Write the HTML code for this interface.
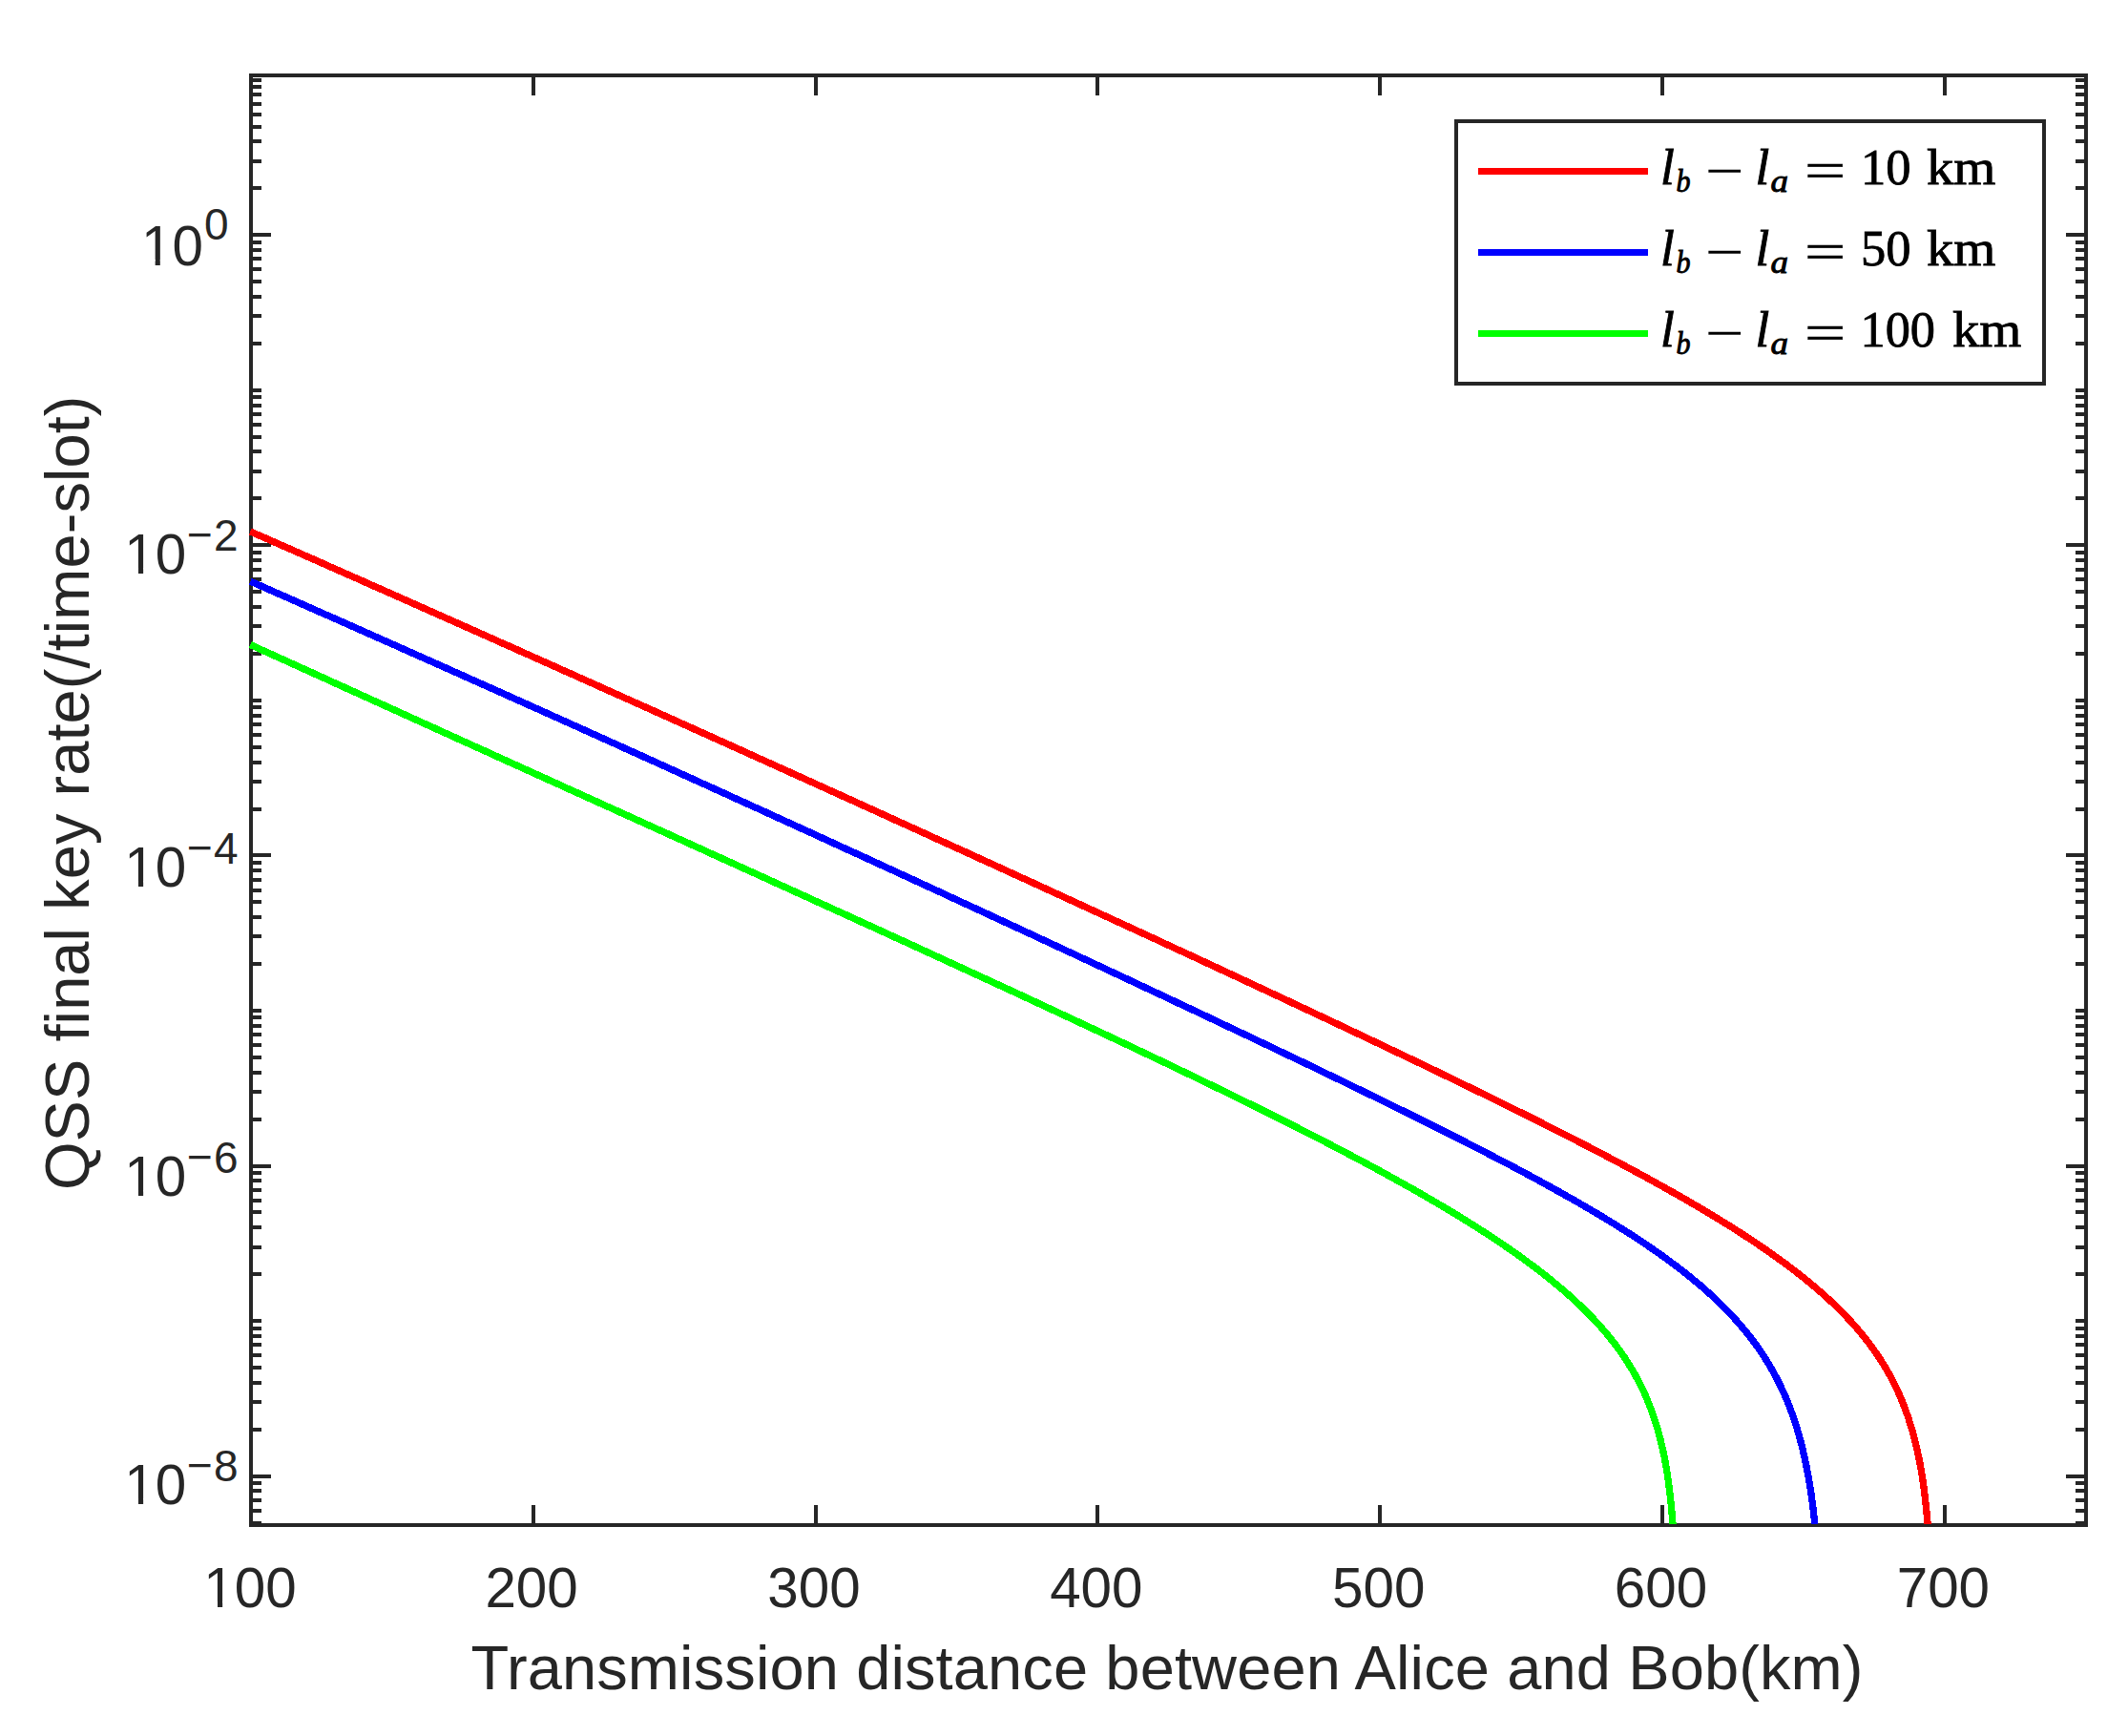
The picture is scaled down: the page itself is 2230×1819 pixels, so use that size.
<!DOCTYPE html>
<html lang="en"><head><meta charset="utf-8"><title>QSS final key rate</title>
<style>html,body{margin:0;padding:0;background:#fff}svg{display:block}.t{font-family:"Liberation Sans",sans-serif;fill:#262626}.tk{font-size:58.33px}.ex{font-size:46px}.lb{font-size:65px}.ri{font-family:"Liberation Serif",serif;font-style:italic;fill:#000;stroke:#000;stroke-width:.9px}.ro{font-family:"Liberation Serif",serif;fill:#000}.rr{font-family:"Liberation Serif",serif;fill:#000;stroke:#000;stroke-width:.8px}</style></head><body>
<svg width="2230" height="1819" viewBox="0 0 2230 1819">
<rect width="2230" height="1819" fill="#fff"/>
<path d="M559.00,1598.0V1577.0M559.00,79.0V100.0M855.00,1598.0V1577.0M855.00,79.0V100.0M1150.00,1598.0V1577.0M1150.00,79.0V100.0M1446.00,1598.0V1577.0M1446.00,79.0V100.0M1742.00,1598.0V1577.0M1742.00,79.0V100.0M2038.00,1598.0V1577.0M2038.00,79.0V100.0M263.0,1596.00h11M2186.0,1596.00h-11M263.0,1583.00h11M2186.0,1583.00h-11M263.0,1572.00h11M2186.0,1572.00h-11M263.0,1562.00h11M2186.0,1562.00h-11M263.0,1554.00h11M2186.0,1554.00h-11M263.0,1547.00h21M2186.0,1547.00h-21M263.0,1498.00h11M2186.0,1498.00h-11M263.0,1469.00h11M2186.0,1469.00h-11M263.0,1449.00h11M2186.0,1449.00h-11M263.0,1433.00h11M2186.0,1433.00h-11M263.0,1420.00h11M2186.0,1420.00h-11M263.0,1409.00h11M2186.0,1409.00h-11M263.0,1400.00h11M2186.0,1400.00h-11M263.0,1392.00h11M2186.0,1392.00h-11M263.0,1384.00h11M2186.0,1384.00h-11M263.0,1335.00h11M2186.0,1335.00h-11M263.0,1307.00h11M2186.0,1307.00h-11M263.0,1286.00h11M2186.0,1286.00h-11M263.0,1270.00h11M2186.0,1270.00h-11M263.0,1258.00h11M2186.0,1258.00h-11M263.0,1247.00h11M2186.0,1247.00h-11M263.0,1237.00h11M2186.0,1237.00h-11M263.0,1229.00h11M2186.0,1229.00h-11M263.0,1222.00h21M2186.0,1222.00h-21M263.0,1173.00h11M2186.0,1173.00h-11M263.0,1144.00h11M2186.0,1144.00h-11M263.0,1124.00h11M2186.0,1124.00h-11M263.0,1108.00h11M2186.0,1108.00h-11M263.0,1095.00h11M2186.0,1095.00h-11M263.0,1084.00h11M2186.0,1084.00h-11M263.0,1075.00h11M2186.0,1075.00h-11M263.0,1066.00h11M2186.0,1066.00h-11M263.0,1059.00h11M2186.0,1059.00h-11M263.0,1010.00h11M2186.0,1010.00h-11M263.0,981.00h11M2186.0,981.00h-11M263.0,961.00h11M2186.0,961.00h-11M263.0,945.00h11M2186.0,945.00h-11M263.0,933.00h11M2186.0,933.00h-11M263.0,922.00h11M2186.0,922.00h-11M263.0,912.00h11M2186.0,912.00h-11M263.0,904.00h11M2186.0,904.00h-11M263.0,896.00h21M2186.0,896.00h-21M263.0,848.00h11M2186.0,848.00h-11M263.0,819.00h11M2186.0,819.00h-11M263.0,799.00h11M2186.0,799.00h-11M263.0,783.00h11M2186.0,783.00h-11M263.0,770.00h11M2186.0,770.00h-11M263.0,759.00h11M2186.0,759.00h-11M263.0,750.00h11M2186.0,750.00h-11M263.0,741.00h11M2186.0,741.00h-11M263.0,734.00h11M2186.0,734.00h-11M263.0,685.00h11M2186.0,685.00h-11M263.0,656.00h11M2186.0,656.00h-11M263.0,636.00h11M2186.0,636.00h-11M263.0,620.00h11M2186.0,620.00h-11M263.0,607.00h11M2186.0,607.00h-11M263.0,597.00h11M2186.0,597.00h-11M263.0,587.00h11M2186.0,587.00h-11M263.0,579.00h11M2186.0,579.00h-11M263.0,571.00h21M2186.0,571.00h-21M263.0,522.00h11M2186.0,522.00h-11M263.0,494.00h11M2186.0,494.00h-11M263.0,473.00h11M2186.0,473.00h-11M263.0,458.00h11M2186.0,458.00h-11M263.0,445.00h11M2186.0,445.00h-11M263.0,434.00h11M2186.0,434.00h-11M263.0,425.00h11M2186.0,425.00h-11M263.0,416.00h11M2186.0,416.00h-11M263.0,409.00h11M2186.0,409.00h-11M263.0,360.00h11M2186.0,360.00h-11M263.0,331.00h11M2186.0,331.00h-11M263.0,311.00h11M2186.0,311.00h-11M263.0,295.00h11M2186.0,295.00h-11M263.0,282.00h11M2186.0,282.00h-11M263.0,271.00h11M2186.0,271.00h-11M263.0,262.00h11M2186.0,262.00h-11M263.0,254.00h11M2186.0,254.00h-11M263.0,246.00h21M2186.0,246.00h-21M263.0,197.00h11M2186.0,197.00h-11M263.0,169.00h11M2186.0,169.00h-11M263.0,148.00h11M2186.0,148.00h-11M263.0,133.00h11M2186.0,133.00h-11M263.0,120.00h11M2186.0,120.00h-11M263.0,109.00h11M2186.0,109.00h-11M263.0,99.00h11M2186.0,99.00h-11M263.0,91.00h11M2186.0,91.00h-11M263.0,84.00h11M2186.0,84.00h-11" stroke="#262626" stroke-width="4" fill="none"/>
<rect x="263.0" y="79.0" width="1923.0" height="1519.0" fill="none" stroke="#262626" stroke-width="4"/>
<clipPath id="c"><rect x="250.0" y="79.0" width="1938.0" height="1518.0"/></clipPath>
<g clip-path="url(#c)" fill="none" stroke-width="7.3" stroke-linejoin="round" shape-rendering="crispEdges">
<path d="M262.3,556.9 265.0,558.1 270.0,560.3 275.0,562.5 280.0,564.7 285.0,566.9 290.0,569.1 295.0,571.3 300.0,573.5 305.0,575.7 310.0,577.9 315.0,580.1 320.0,582.3 325.0,584.5 330.0,586.7 335.0,588.9 340.0,591.1 345.0,593.4 350.0,595.6 355.0,597.8 360.0,600.0 365.0,602.2 370.0,604.4 375.0,606.6 380.0,608.8 385.0,611.1 390.0,613.3 395.0,615.5 400.0,617.7 405.0,619.9 410.0,622.1 415.0,624.3 420.0,626.6 425.0,628.8 430.0,631.0 435.0,633.2 440.0,635.4 445.0,637.7 450.0,639.9 455.0,642.1 460.0,644.3 465.0,646.5 470.0,648.8 475.0,651.0 480.0,653.2 485.0,655.4 490.0,657.7 495.0,659.9 500.0,662.1 505.0,664.3 510.0,666.6 515.0,668.8 520.0,671.0 525.0,673.3 530.0,675.5 535.0,677.7 540.0,679.9 545.0,682.2 550.0,684.4 555.0,686.6 560.0,688.9 565.0,691.1 570.0,693.3 575.0,695.6 580.0,697.8 585.0,700.0 590.0,702.3 595.0,704.5 600.0,706.7 605.0,709.0 610.0,711.2 615.0,713.5 620.0,715.7 625.0,717.9 630.0,720.2 635.0,722.4 640.0,724.7 645.0,726.9 650.0,729.1 655.0,731.4 660.0,733.6 665.0,735.9 670.0,738.1 675.0,740.3 680.0,742.6 685.0,744.8 690.0,747.1 695.0,749.3 700.0,751.6 705.0,753.8 710.0,756.1 715.0,758.3 720.0,760.6 725.0,762.8 730.0,765.1 735.0,767.3 740.0,769.6 745.0,771.8 750.0,774.1 755.0,776.3 760.0,778.6 765.0,780.8 770.0,783.1 775.0,785.3 780.0,787.6 785.0,789.9 790.0,792.1 795.0,794.4 800.0,796.6 805.0,798.9 810.0,801.1 815.0,803.4 820.0,805.7 825.0,807.9 830.0,810.2 835.0,812.4 840.0,814.7 845.0,817.0 850.0,819.2 855.0,821.5 860.0,823.8 865.0,826.0 870.0,828.3 875.0,830.5 880.0,832.8 885.0,835.1 890.0,837.3 895.0,839.6 900.0,841.9 905.0,844.2 910.0,846.4 915.0,848.7 920.0,851.0 925.0,853.2 930.0,855.5 935.0,857.8 940.0,860.1 945.0,862.3 950.0,864.6 955.0,866.9 960.0,869.1 965.0,871.4 970.0,873.7 975.0,876.0 980.0,878.3 985.0,880.5 990.0,882.8 995.0,885.1 1000.0,887.4 1005.0,889.7 1010.0,891.9 1015.0,894.2 1020.0,896.5 1025.0,898.8 1030.0,901.1 1035.0,903.3 1040.0,905.6 1045.0,907.9 1050.0,910.2 1055.0,912.5 1060.0,914.8 1065.0,917.1 1070.0,919.4 1075.0,921.6 1080.0,923.9 1085.0,926.2 1090.0,928.5 1095.0,930.8 1100.0,933.1 1105.0,935.4 1110.0,937.7 1115.0,940.0 1120.0,942.3 1125.0,944.6 1130.0,946.9 1135.0,949.2 1140.0,951.5 1145.0,953.8 1150.0,956.1 1155.0,958.4 1160.0,960.7 1165.0,963.0 1170.0,965.3 1175.0,967.6 1180.0,969.9 1185.0,972.2 1190.0,974.5 1195.0,976.8 1200.0,979.1 1205.0,981.4 1210.0,983.7 1215.0,986.0 1220.0,988.4 1225.0,990.7 1230.0,993.0 1235.0,995.3 1240.0,997.6 1245.0,999.9 1250.0,1002.2 1255.0,1004.6 1260.0,1006.9 1265.0,1009.2 1270.0,1011.5 1275.0,1013.8 1280.0,1016.2 1285.0,1018.5 1290.0,1020.8 1295.0,1023.1 1300.0,1025.5 1305.0,1027.8 1310.0,1030.1 1315.0,1032.5 1320.0,1034.8 1325.0,1037.1 1330.0,1039.5 1335.0,1041.8 1340.0,1044.1 1345.0,1046.5 1350.0,1048.8 1355.0,1051.2 1360.0,1053.5 1365.0,1055.9 1370.0,1058.2 1375.0,1060.6 1380.0,1062.9 1385.0,1065.3 1390.0,1067.6 1395.0,1070.0 1400.0,1072.3 1405.0,1074.7 1410.0,1077.0 1415.0,1079.4 1420.0,1081.8 1425.0,1084.1 1430.0,1086.5 1435.0,1088.9 1440.0,1091.3 1445.0,1093.6 1450.0,1096.0 1455.0,1098.4 1460.0,1100.8 1465.0,1103.2 1470.0,1105.5 1475.0,1107.9 1480.0,1110.3 1485.0,1112.7 1490.0,1115.1 1495.0,1117.5 1500.0,1119.9 1505.0,1122.3 1510.0,1124.7 1515.0,1127.2 1520.0,1129.6 1525.0,1132.0 1530.0,1134.4 1535.0,1136.9 1540.0,1139.3 1545.0,1141.7 1550.0,1144.2 1555.0,1146.6 1560.0,1149.1 1565.0,1151.5 1570.0,1154.0 1575.0,1156.4 1580.0,1158.9 1585.0,1161.4 1590.0,1163.9 1595.0,1166.3 1600.0,1168.8 1605.0,1171.3 1610.0,1173.8 1615.0,1176.3 1620.0,1178.9 1625.0,1181.4 1630.0,1183.9 1635.0,1186.4 1640.0,1189.0 1645.0,1191.5 1650.0,1194.1 1655.0,1196.7 1660.0,1199.2 1665.0,1201.8 1670.0,1204.4 1675.0,1207.0 1680.0,1209.6 1685.0,1212.3 1690.0,1214.9 1695.0,1217.6 1700.0,1220.2 1705.0,1222.9 1710.0,1225.6 1715.0,1228.3 1720.0,1231.0 1725.0,1233.7 1730.0,1236.4 1735.0,1239.2 1740.0,1242.0 1745.0,1244.8 1750.0,1247.6 1755.0,1250.4 1760.0,1253.2 1765.0,1256.1 1770.0,1259.0 1775.0,1261.9 1780.0,1264.8 1785.0,1267.8 1790.0,1270.8 1795.0,1273.8 1800.0,1276.8 1805.0,1279.9 1810.0,1283.0 1815.0,1286.1 1820.0,1289.3 1825.0,1292.5 1830.0,1295.8 1835.0,1299.0 1840.0,1302.4 1845.0,1305.8 1850.0,1309.2 1855.0,1312.7 1860.0,1316.2 1865.0,1319.8 1870.0,1323.4 1875.0,1327.2 1880.0,1331.0 1885.0,1334.9 1890.0,1338.8 1895.0,1342.9 1900.0,1347.0 1905.0,1351.3 1910.0,1355.7 1915.0,1360.2 1920.0,1364.8 1925.0,1369.6 1930.0,1374.6 1935.0,1379.8 1940.0,1385.1 1945.0,1390.7 1946.1,1392.0 1947.1,1393.2 1948.1,1394.4 1949.1,1395.6 1950.1,1396.8 1951.1,1398.0 1952.1,1399.2 1953.1,1400.5 1954.1,1401.7 1955.1,1403.0 1956.1,1404.2 1957.1,1405.5 1958.1,1406.8 1959.1,1408.2 1960.1,1409.5 1961.1,1410.9 1962.1,1412.2 1963.1,1413.6 1964.1,1415.0 1965.1,1416.5 1966.1,1417.9 1967.1,1419.4 1968.1,1420.9 1969.1,1422.4 1970.1,1423.9 1971.1,1425.5 1972.1,1427.0 1973.1,1428.6 1974.1,1430.3 1975.1,1431.9 1976.1,1433.6 1977.1,1435.3 1978.1,1437.0 1979.1,1438.8 1980.1,1440.6 1981.1,1442.4 1982.1,1444.3 1983.1,1446.2 1984.1,1448.2 1985.1,1450.1 1986.1,1452.2 1987.1,1454.2 1988.1,1456.4 1989.1,1458.5 1990.1,1460.8 1991.1,1463.0 1992.1,1465.4 1993.1,1467.8 1994.1,1470.2 1995.1,1472.8 1996.1,1475.4 1997.1,1478.1 1998.1,1480.8 1999.1,1483.7 2000.1,1486.7 2001.1,1489.8 2002.1,1492.9 2003.1,1496.3 2004.1,1499.7 2005.1,1503.3 2006.1,1507.1 2006.2,1507.4 2006.3,1507.8 2006.4,1508.2 2006.5,1508.6 2006.6,1509.0 2006.7,1509.4 2006.8,1509.8 2006.9,1510.2 2007.0,1510.6 2007.1,1511.0 2007.2,1511.4 2007.3,1511.8 2007.4,1512.2 2007.5,1512.6 2007.6,1513.0 2007.7,1513.5 2007.8,1513.9 2007.9,1514.3 2008.0,1514.7 2008.1,1515.1 2008.2,1515.6 2008.3,1516.0 2008.4,1516.4 2008.5,1516.9 2008.6,1517.3 2008.7,1517.7 2008.8,1518.2 2008.9,1518.6 2009.0,1519.1 2009.1,1519.5 2009.2,1519.9 2009.3,1520.4 2009.4,1520.9 2009.5,1521.3 2009.6,1521.8 2009.7,1522.2 2009.8,1522.7 2009.9,1523.2 2010.0,1523.6 2010.1,1524.1 2010.2,1524.6 2010.3,1525.1 2010.4,1525.5 2010.5,1526.0 2010.6,1526.5 2010.7,1527.0 2010.8,1527.5 2010.9,1528.0 2011.0,1528.5 2011.1,1529.0 2011.2,1529.5 2011.3,1530.0 2011.4,1530.5 2011.5,1531.0 2011.6,1531.6 2011.7,1532.1 2011.8,1532.6 2011.9,1533.1 2012.0,1533.7 2012.1,1534.2 2012.2,1534.8 2012.3,1535.3 2012.4,1535.8 2012.5,1536.4 2012.6,1537.0 2012.7,1537.5 2012.8,1538.1 2012.9,1538.6 2013.0,1539.2 2013.1,1539.8 2013.2,1540.4 2013.3,1541.0 2013.4,1541.6 2013.5,1542.1 2013.6,1542.7 2013.7,1543.3 2013.8,1544.0 2013.9,1544.6 2014.0,1545.2 2014.1,1545.8 2014.2,1546.4 2014.3,1547.1 2014.4,1547.7 2014.5,1548.3 2014.6,1549.0 2014.7,1549.6 2014.8,1550.3 2014.9,1551.0 2015.0,1551.6 2015.1,1552.3 2015.2,1553.0 2015.3,1553.7 2015.4,1554.4 2015.5,1555.1 2015.6,1555.8 2015.7,1556.5 2015.8,1557.2 2015.9,1558.0 2016.0,1558.7 2016.1,1559.4 2016.2,1560.2 2016.3,1560.9 2016.4,1561.7 2016.5,1562.5 2016.6,1563.2 2016.7,1564.0 2016.8,1564.8 2016.9,1565.6 2017.0,1566.4 2017.1,1567.3 2017.2,1568.1 2017.3,1568.9 2017.4,1569.8 2017.5,1570.6 2017.6,1571.5 2017.7,1572.4 2017.8,1573.3 2017.9,1574.2 2018.0,1575.1 2018.1,1576.0 2018.2,1576.9 2018.3,1577.9 2018.4,1578.8 2018.5,1579.8 2018.6,1580.8 2018.7,1581.7 2018.8,1582.8 2018.9,1583.8 2019.0,1584.8 2019.1,1585.8 2019.2,1586.9 2019.3,1588.0 2019.4,1589.1 2019.5,1590.2 2019.6,1591.3 2019.7,1592.4 2019.8,1593.6 2019.9,1594.8 2020.0,1596.0 2020.1,1597.2 2020.2,1598.4 2020.3,1599.7 2020.4,1601.0 2020.5,1602.3 2020.6,1603.6 2020.7,1604.9" stroke="#f00"/>
<path d="M262.3,609.1 265.0,610.3 270.0,612.5 275.0,614.7 280.0,616.9 285.0,619.1 290.0,621.3 295.0,623.5 300.0,625.7 305.0,627.9 310.0,630.1 315.0,632.3 320.0,634.5 325.0,636.8 330.0,639.0 335.0,641.2 340.0,643.4 345.0,645.6 350.0,647.8 355.0,650.0 360.0,652.2 365.0,654.4 370.0,656.7 375.0,658.9 380.0,661.1 385.0,663.3 390.0,665.5 395.0,667.8 400.0,670.0 405.0,672.2 410.0,674.4 415.0,676.6 420.0,678.9 425.0,681.1 430.0,683.3 435.0,685.5 440.0,687.8 445.0,690.0 450.0,692.2 455.0,694.4 460.0,696.7 465.0,698.9 470.0,701.1 475.0,703.4 480.0,705.6 485.0,707.8 490.0,710.1 495.0,712.3 500.0,714.5 505.0,716.8 510.0,719.0 515.0,721.2 520.0,723.5 525.0,725.7 530.0,727.9 535.0,730.2 540.0,732.4 545.0,734.7 550.0,736.9 555.0,739.2 560.0,741.4 565.0,743.6 570.0,745.9 575.0,748.1 580.0,750.4 585.0,752.6 590.0,754.9 595.0,757.1 600.0,759.4 605.0,761.6 610.0,763.9 615.0,766.1 620.0,768.4 625.0,770.6 630.0,772.9 635.0,775.1 640.0,777.4 645.0,779.6 650.0,781.9 655.0,784.2 660.0,786.4 665.0,788.7 670.0,790.9 675.0,793.2 680.0,795.4 685.0,797.7 690.0,800.0 695.0,802.2 700.0,804.5 705.0,806.8 710.0,809.0 715.0,811.3 720.0,813.6 725.0,815.8 730.0,818.1 735.0,820.4 740.0,822.6 745.0,824.9 750.0,827.2 755.0,829.4 760.0,831.7 765.0,834.0 770.0,836.3 775.0,838.5 780.0,840.8 785.0,843.1 790.0,845.4 795.0,847.6 800.0,849.9 805.0,852.2 810.0,854.5 815.0,856.8 820.0,859.0 825.0,861.3 830.0,863.6 835.0,865.9 840.0,868.2 845.0,870.5 850.0,872.7 855.0,875.0 860.0,877.3 865.0,879.6 870.0,881.9 875.0,884.2 880.0,886.5 885.0,888.8 890.0,891.1 895.0,893.3 900.0,895.6 905.0,897.9 910.0,900.2 915.0,902.5 920.0,904.8 925.0,907.1 930.0,909.4 935.0,911.7 940.0,914.0 945.0,916.3 950.0,918.6 955.0,920.9 960.0,923.2 965.0,925.5 970.0,927.8 975.0,930.1 980.0,932.4 985.0,934.7 990.0,937.0 995.0,939.4 1000.0,941.7 1005.0,944.0 1010.0,946.3 1015.0,948.6 1020.0,950.9 1025.0,953.2 1030.0,955.5 1035.0,957.8 1040.0,960.2 1045.0,962.5 1050.0,964.8 1055.0,967.1 1060.0,969.4 1065.0,971.7 1070.0,974.1 1075.0,976.4 1080.0,978.7 1085.0,981.0 1090.0,983.4 1095.0,985.7 1100.0,988.0 1105.0,990.3 1110.0,992.7 1115.0,995.0 1120.0,997.3 1125.0,999.6 1130.0,1002.0 1135.0,1004.3 1140.0,1006.6 1145.0,1009.0 1150.0,1011.3 1155.0,1013.6 1160.0,1016.0 1165.0,1018.3 1170.0,1020.7 1175.0,1023.0 1180.0,1025.3 1185.0,1027.7 1190.0,1030.0 1195.0,1032.4 1200.0,1034.7 1205.0,1037.1 1210.0,1039.4 1215.0,1041.7 1220.0,1044.1 1225.0,1046.4 1230.0,1048.8 1235.0,1051.2 1240.0,1053.5 1245.0,1055.9 1250.0,1058.2 1255.0,1060.6 1260.0,1062.9 1265.0,1065.3 1270.0,1067.7 1275.0,1070.0 1280.0,1072.4 1285.0,1074.8 1290.0,1077.1 1295.0,1079.5 1300.0,1081.9 1305.0,1084.2 1310.0,1086.6 1315.0,1089.0 1320.0,1091.4 1325.0,1093.7 1330.0,1096.1 1335.0,1098.5 1340.0,1100.9 1345.0,1103.3 1350.0,1105.7 1355.0,1108.1 1360.0,1110.4 1365.0,1112.8 1370.0,1115.2 1375.0,1117.6 1380.0,1120.0 1385.0,1122.5 1390.0,1124.9 1395.0,1127.3 1400.0,1129.7 1405.0,1132.1 1410.0,1134.5 1415.0,1136.9 1420.0,1139.4 1425.0,1141.8 1430.0,1144.2 1435.0,1146.7 1440.0,1149.1 1445.0,1151.5 1450.0,1154.0 1455.0,1156.4 1460.0,1158.9 1465.0,1161.4 1470.0,1163.8 1475.0,1166.3 1480.0,1168.8 1485.0,1171.2 1490.0,1173.7 1495.0,1176.2 1500.0,1178.7 1505.0,1181.2 1510.0,1183.7 1515.0,1186.2 1520.0,1188.7 1525.0,1191.3 1530.0,1193.8 1535.0,1196.3 1540.0,1198.9 1545.0,1201.4 1550.0,1204.0 1555.0,1206.6 1560.0,1209.2 1565.0,1211.8 1570.0,1214.4 1575.0,1217.0 1580.0,1219.6 1585.0,1222.2 1590.0,1224.9 1595.0,1227.5 1600.0,1230.2 1605.0,1232.9 1610.0,1235.6 1615.0,1238.3 1620.0,1241.1 1625.0,1243.8 1630.0,1246.6 1635.0,1249.4 1640.0,1252.2 1645.0,1255.0 1650.0,1257.8 1655.0,1260.7 1660.0,1263.6 1665.0,1266.5 1670.0,1269.5 1675.0,1272.4 1680.0,1275.4 1685.0,1278.5 1690.0,1281.5 1695.0,1284.6 1700.0,1287.8 1705.0,1290.9 1710.0,1294.1 1715.0,1297.4 1720.0,1300.7 1725.0,1304.1 1730.0,1307.5 1735.0,1310.9 1740.0,1314.4 1745.0,1318.0 1750.0,1321.7 1755.0,1325.4 1760.0,1329.2 1765.0,1333.1 1770.0,1337.1 1775.0,1341.2 1780.0,1345.3 1785.0,1349.6 1790.0,1354.1 1795.0,1358.6 1800.0,1363.4 1805.0,1368.2 1810.0,1373.3 1815.0,1378.6 1820.0,1384.1 1825.0,1389.8 1830.0,1395.8 1830.9,1396.9 1831.9,1398.2 1832.9,1399.4 1833.9,1400.7 1834.9,1402.0 1835.9,1403.3 1836.9,1404.7 1837.9,1406.0 1838.9,1407.4 1839.9,1408.7 1840.9,1410.1 1841.9,1411.5 1842.9,1413.0 1843.9,1414.4 1844.9,1415.9 1845.9,1417.3 1846.9,1418.9 1847.9,1420.4 1848.9,1421.9 1849.9,1423.5 1850.9,1425.1 1851.9,1426.7 1852.9,1428.3 1853.9,1430.0 1854.9,1431.7 1855.9,1433.4 1856.9,1435.2 1857.9,1436.9 1858.9,1438.7 1859.9,1440.6 1860.9,1442.4 1861.9,1444.4 1862.9,1446.3 1863.9,1448.3 1864.9,1450.3 1865.9,1452.4 1866.9,1454.5 1867.9,1456.6 1868.9,1458.8 1869.9,1461.0 1870.9,1463.3 1871.9,1465.7 1872.9,1468.1 1873.9,1470.5 1874.9,1473.1 1875.9,1475.7 1876.9,1478.3 1877.9,1481.1 1878.9,1483.9 1879.9,1486.8 1880.9,1489.8 1881.9,1492.9 1882.9,1496.1 1883.9,1499.4 1884.9,1502.8 1885.9,1506.4 1886.9,1510.1 1887.9,1513.9 1888.9,1517.9 1889.9,1522.1 1890.9,1526.5 1891.0,1527.0 1891.1,1527.4 1891.2,1527.9 1891.3,1528.3 1891.4,1528.8 1891.5,1529.2 1891.6,1529.7 1891.7,1530.2 1891.8,1530.6 1891.9,1531.1 1892.0,1531.6 1892.1,1532.1 1892.2,1532.5 1892.3,1533.0 1892.4,1533.5 1892.5,1534.0 1892.6,1534.5 1892.7,1535.0 1892.8,1535.5 1892.9,1536.0 1893.0,1536.5 1893.1,1537.0 1893.2,1537.5 1893.3,1538.0 1893.4,1538.5 1893.5,1539.0 1893.6,1539.5 1893.7,1540.0 1893.8,1540.6 1893.9,1541.1 1894.0,1541.6 1894.1,1542.1 1894.2,1542.7 1894.3,1543.2 1894.4,1543.7 1894.5,1544.3 1894.6,1544.8 1894.7,1545.4 1894.8,1545.9 1894.9,1546.5 1895.0,1547.1 1895.1,1547.6 1895.2,1548.2 1895.3,1548.8 1895.4,1549.3 1895.5,1549.9 1895.6,1550.5 1895.7,1551.1 1895.8,1551.7 1895.9,1552.3 1896.0,1552.9 1896.1,1553.5 1896.2,1554.1 1896.3,1554.7 1896.4,1555.3 1896.5,1555.9 1896.6,1556.5 1896.7,1557.1 1896.8,1557.8 1896.9,1558.4 1897.0,1559.0 1897.1,1559.7 1897.2,1560.3 1897.3,1561.0 1897.4,1561.6 1897.5,1562.3 1897.6,1563.0 1897.7,1563.6 1897.8,1564.3 1897.9,1565.0 1898.0,1565.7 1898.1,1566.4 1898.2,1567.1 1898.3,1567.8 1898.4,1568.5 1898.5,1569.2 1898.6,1569.9 1898.7,1570.6 1898.8,1571.4 1898.9,1572.1 1899.0,1572.9 1899.1,1573.6 1899.2,1574.4 1899.3,1575.1 1899.4,1575.9 1899.5,1576.7 1899.6,1577.4 1899.7,1578.2 1899.8,1579.0 1899.9,1579.8 1900.0,1580.6 1900.1,1581.5 1900.2,1582.3 1900.3,1583.1 1900.4,1584.0 1900.5,1584.8 1900.6,1585.7 1900.7,1586.5 1900.8,1587.4 1900.9,1588.3 1901.0,1589.2 1901.1,1590.1 1901.2,1591.0 1901.3,1591.9 1901.4,1592.8 1901.5,1593.8 1901.6,1594.7 1901.7,1595.7 1901.8,1596.6 1901.9,1597.6 1902.0,1598.6 1902.1,1599.6 1902.2,1600.6 1902.3,1601.6 1902.4,1602.6 1902.5,1603.7 1902.6,1604.8 1902.7,1605.8" stroke="#00f"/>
<path d="M262.3,675.5 265.0,676.7 270.0,679.0 275.0,681.3 280.0,683.5 285.0,685.8 290.0,688.1 295.0,690.3 300.0,692.6 305.0,694.9 310.0,697.1 315.0,699.4 320.0,701.7 325.0,703.9 330.0,706.2 335.0,708.5 340.0,710.7 345.0,713.0 350.0,715.3 355.0,717.5 360.0,719.8 365.0,722.1 370.0,724.3 375.0,726.6 380.0,728.9 385.0,731.1 390.0,733.4 395.0,735.7 400.0,737.9 405.0,740.2 410.0,742.5 415.0,744.7 420.0,747.0 425.0,749.2 430.0,751.5 435.0,753.8 440.0,756.0 445.0,758.3 450.0,760.6 455.0,762.8 460.0,765.1 465.0,767.4 470.0,769.6 475.0,771.9 480.0,774.2 485.0,776.4 490.0,778.7 495.0,781.0 500.0,783.2 505.0,785.5 510.0,787.7 515.0,790.0 520.0,792.3 525.0,794.5 530.0,796.8 535.0,799.1 540.0,801.3 545.0,803.6 550.0,805.9 555.0,808.1 560.0,810.4 565.0,812.7 570.0,814.9 575.0,817.2 580.0,819.5 585.0,821.7 590.0,824.0 595.0,826.3 600.0,828.5 605.0,830.8 610.0,833.0 615.0,835.3 620.0,837.6 625.0,839.8 630.0,842.1 635.0,844.4 640.0,846.6 645.0,848.9 650.0,851.2 655.0,853.4 660.0,855.7 665.0,858.0 670.0,860.2 675.0,862.5 680.0,864.8 685.0,867.0 690.0,869.3 695.0,871.6 700.0,873.8 705.0,876.1 710.0,878.4 715.0,880.6 720.0,882.9 725.0,885.2 730.0,887.5 735.0,889.7 740.0,892.0 745.0,894.3 750.0,896.5 755.0,898.8 760.0,901.1 765.0,903.3 770.0,905.6 775.0,907.9 780.0,910.2 785.0,912.4 790.0,914.7 795.0,917.0 800.0,919.2 805.0,921.5 810.0,923.8 815.0,926.1 820.0,928.3 825.0,930.6 830.0,932.9 835.0,935.2 840.0,937.4 845.0,939.7 850.0,942.0 855.0,944.3 860.0,946.5 865.0,948.8 870.0,951.1 875.0,953.4 880.0,955.7 885.0,957.9 890.0,960.2 895.0,962.5 900.0,964.8 905.0,967.1 910.0,969.3 915.0,971.6 920.0,973.9 925.0,976.2 930.0,978.5 935.0,980.8 940.0,983.1 945.0,985.3 950.0,987.6 955.0,989.9 960.0,992.2 965.0,994.5 970.0,996.8 975.0,999.1 980.0,1001.4 985.0,1003.7 990.0,1006.0 995.0,1008.3 1000.0,1010.6 1005.0,1012.9 1010.0,1015.2 1015.0,1017.5 1020.0,1019.8 1025.0,1022.1 1030.0,1024.4 1035.0,1026.7 1040.0,1029.0 1045.0,1031.3 1050.0,1033.6 1055.0,1035.9 1060.0,1038.2 1065.0,1040.5 1070.0,1042.8 1075.0,1045.2 1080.0,1047.5 1085.0,1049.8 1090.0,1052.1 1095.0,1054.4 1100.0,1056.8 1105.0,1059.1 1110.0,1061.4 1115.0,1063.8 1120.0,1066.1 1125.0,1068.4 1130.0,1070.8 1135.0,1073.1 1140.0,1075.4 1145.0,1077.8 1150.0,1080.1 1155.0,1082.5 1160.0,1084.8 1165.0,1087.2 1170.0,1089.5 1175.0,1091.9 1180.0,1094.2 1185.0,1096.6 1190.0,1099.0 1195.0,1101.3 1200.0,1103.7 1205.0,1106.1 1210.0,1108.5 1215.0,1110.8 1220.0,1113.2 1225.0,1115.6 1230.0,1118.0 1235.0,1120.4 1240.0,1122.8 1245.0,1125.2 1250.0,1127.6 1255.0,1130.0 1260.0,1132.4 1265.0,1134.9 1270.0,1137.3 1275.0,1139.7 1280.0,1142.1 1285.0,1144.6 1290.0,1147.0 1295.0,1149.5 1300.0,1151.9 1305.0,1154.4 1310.0,1156.8 1315.0,1159.3 1320.0,1161.8 1325.0,1164.3 1330.0,1166.8 1335.0,1169.3 1340.0,1171.8 1345.0,1174.3 1350.0,1176.8 1355.0,1179.3 1360.0,1181.8 1365.0,1184.4 1370.0,1186.9 1375.0,1189.5 1380.0,1192.0 1385.0,1194.6 1390.0,1197.2 1395.0,1199.8 1400.0,1202.4 1405.0,1205.0 1410.0,1207.6 1415.0,1210.3 1420.0,1212.9 1425.0,1215.6 1430.0,1218.2 1435.0,1220.9 1440.0,1223.6 1445.0,1226.3 1450.0,1229.0 1455.0,1231.8 1460.0,1234.5 1465.0,1237.3 1470.0,1240.1 1475.0,1242.9 1480.0,1245.7 1485.0,1248.5 1490.0,1251.4 1495.0,1254.3 1500.0,1257.2 1505.0,1260.1 1510.0,1263.1 1515.0,1266.0 1520.0,1269.0 1525.0,1272.0 1530.0,1275.1 1535.0,1278.2 1540.0,1281.3 1545.0,1284.4 1550.0,1287.6 1555.0,1290.8 1560.0,1294.0 1565.0,1297.3 1570.0,1300.7 1575.0,1304.0 1580.0,1307.5 1585.0,1310.9 1590.0,1314.4 1595.0,1318.0 1600.0,1321.7 1605.0,1325.4 1610.0,1329.1 1615.0,1333.0 1620.0,1336.9 1625.0,1340.9 1630.0,1345.0 1635.0,1349.2 1640.0,1353.5 1645.0,1357.9 1650.0,1362.4 1655.0,1367.1 1660.0,1371.9 1665.0,1376.9 1670.0,1382.1 1675.0,1387.5 1678.0,1390.9 1679.0,1392.1 1680.0,1393.2 1681.0,1394.4 1682.0,1395.5 1683.0,1396.7 1684.0,1397.9 1685.0,1399.1 1686.0,1400.3 1687.0,1401.6 1688.0,1402.8 1689.0,1404.1 1690.0,1405.3 1691.0,1406.6 1692.0,1407.9 1693.0,1409.2 1694.0,1410.6 1695.0,1411.9 1696.0,1413.3 1697.0,1414.7 1698.0,1416.1 1699.0,1417.5 1700.0,1418.9 1701.0,1420.4 1702.0,1421.8 1703.0,1423.3 1704.0,1424.9 1705.0,1426.4 1706.0,1428.0 1707.0,1429.6 1708.0,1431.2 1709.0,1432.8 1710.0,1434.5 1711.0,1436.2 1712.0,1437.9 1713.0,1439.7 1714.0,1441.4 1715.0,1443.3 1716.0,1445.1 1717.0,1447.0 1718.0,1449.0 1719.0,1450.9 1720.0,1453.0 1721.0,1455.0 1722.0,1457.2 1723.0,1459.3 1724.0,1461.5 1725.0,1463.8 1726.0,1466.2 1727.0,1468.6 1728.0,1471.0 1729.0,1473.6 1730.0,1476.2 1731.0,1478.9 1732.0,1481.7 1733.0,1484.6 1734.0,1487.6 1735.0,1490.7 1736.0,1494.0 1737.0,1497.4 1738.0,1500.9 1738.1,1501.3 1738.2,1501.6 1738.3,1502.0 1738.4,1502.4 1738.5,1502.7 1738.6,1503.1 1738.7,1503.5 1738.8,1503.8 1738.9,1504.2 1739.0,1504.6 1739.1,1505.0 1739.2,1505.4 1739.3,1505.7 1739.4,1506.1 1739.5,1506.5 1739.6,1506.9 1739.7,1507.3 1739.8,1507.7 1739.9,1508.1 1740.0,1508.5 1740.1,1508.9 1740.2,1509.3 1740.3,1509.7 1740.4,1510.1 1740.5,1510.5 1740.6,1510.9 1740.7,1511.3 1740.8,1511.7 1740.9,1512.1 1741.0,1512.6 1741.1,1513.0 1741.2,1513.4 1741.3,1513.8 1741.4,1514.3 1741.5,1514.7 1741.6,1515.1 1741.7,1515.6 1741.8,1516.0 1741.9,1516.4 1742.0,1516.9 1742.1,1517.3 1742.2,1517.8 1742.3,1518.2 1742.4,1518.7 1742.5,1519.1 1742.6,1519.6 1742.7,1520.1 1742.8,1520.5 1742.9,1521.0 1743.0,1521.5 1743.1,1521.9 1743.2,1522.4 1743.3,1522.9 1743.4,1523.4 1743.5,1523.8 1743.6,1524.3 1743.7,1524.8 1743.8,1525.3 1743.9,1525.8 1744.0,1526.3 1744.1,1526.8 1744.2,1527.3 1744.3,1527.8 1744.4,1528.4 1744.5,1528.9 1744.6,1529.4 1744.7,1529.9 1744.8,1530.5 1744.9,1531.0 1745.0,1531.5 1745.1,1532.1 1745.2,1532.6 1745.3,1533.2 1745.4,1533.7 1745.5,1534.3 1745.6,1534.8 1745.7,1535.4 1745.8,1536.0 1745.9,1536.6 1746.0,1537.1 1746.1,1537.7 1746.2,1538.3 1746.3,1538.9 1746.4,1539.5 1746.5,1540.1 1746.6,1540.7 1746.7,1541.3 1746.8,1541.9 1746.9,1542.6 1747.0,1543.2 1747.1,1543.8 1747.2,1544.5 1747.3,1545.1 1747.4,1545.8 1747.5,1546.4 1747.6,1547.1 1747.7,1547.8 1747.8,1548.4 1747.9,1549.1 1748.0,1549.8 1748.1,1550.5 1748.2,1551.2 1748.3,1551.9 1748.4,1552.6 1748.5,1553.4 1748.6,1554.1 1748.7,1554.8 1748.8,1555.6 1748.9,1556.3 1749.0,1557.1 1749.1,1557.9 1749.2,1558.6 1749.3,1559.4 1749.4,1560.2 1749.5,1561.0 1749.6,1561.8 1749.7,1562.7 1749.8,1563.5 1749.9,1564.3 1750.0,1565.2 1750.1,1566.1 1750.2,1566.9 1750.3,1567.8 1750.4,1568.7 1750.5,1569.6 1750.6,1570.5 1750.7,1571.5 1750.8,1572.4 1750.9,1573.4 1751.0,1574.3 1751.1,1575.3 1751.2,1576.3 1751.3,1577.3 1751.4,1578.4 1751.5,1579.4 1751.6,1580.5 1751.7,1581.5 1751.8,1582.6 1751.9,1583.7 1752.0,1584.9 1752.1,1586.0 1752.2,1587.2 1752.3,1588.4 1752.4,1589.6 1752.5,1590.8 1752.6,1592.0 1752.7,1593.3 1752.8,1594.6 1752.9,1595.9 1753.0,1597.2 1753.1,1598.6 1753.2,1600.0 1753.3,1601.4 1753.4,1602.9 1753.5,1604.4 1753.6,1605.9" stroke="#0f0"/>
</g>
<text class="t tk" x="262.0" y="1684" text-anchor="middle">100</text>
<rect x="216.78" y="1678" width="11.22" height="7" fill="#fff"/><rect x="233.16" y="1678" width="10.77" height="7" fill="#fff"/>
<text class="t tk" x="557.1" y="1684" text-anchor="middle">200</text>
<text class="t tk" x="853.0" y="1684" text-anchor="middle">300</text>
<text class="t tk" x="1148.8" y="1684" text-anchor="middle">400</text>
<text class="t tk" x="1444.7" y="1684" text-anchor="middle">500</text>
<text class="t tk" x="1740.5" y="1684" text-anchor="middle">600</text>
<text class="t tk" x="2036.4" y="1684" text-anchor="middle">700</text>
<text class="t tk" x="148" y="277.8">10</text>
<rect x="151.44" y="272" width="11.22" height="7" fill="#fff"/><rect x="167.82" y="272" width="10.77" height="7" fill="#fff"/>
<text class="t ex" x="214" y="251.2">0</text>
<text class="t tk" x="130.3" y="600.9">10</text>
<rect x="133.74" y="595" width="11.22" height="7" fill="#fff"/><rect x="150.12" y="595" width="10.77" height="7" fill="#fff"/>
<text class="t ex" x="196" y="576.9"><tspan dy="-1.2">−</tspan><tspan dy="1.2" dx="1">2</tspan></text>
<text class="t tk" x="130.3" y="928.9">10</text>
<rect x="133.74" y="923" width="11.22" height="7" fill="#fff"/><rect x="150.12" y="923" width="10.77" height="7" fill="#fff"/>
<text class="t ex" x="196" y="904.9"><tspan dy="-1.2">−</tspan><tspan dy="1.2" dx="1">4</tspan></text>
<text class="t tk" x="130.3" y="1252.9">10</text>
<rect x="133.74" y="1247" width="11.22" height="7" fill="#fff"/><rect x="150.12" y="1247" width="10.77" height="7" fill="#fff"/>
<text class="t ex" x="196" y="1228.9"><tspan dy="-1.2">−</tspan><tspan dy="1.2" dx="1">6</tspan></text>
<text class="t tk" x="130.3" y="1576.0">10</text>
<rect x="133.74" y="1570" width="11.22" height="7" fill="#fff"/><rect x="150.12" y="1570" width="10.77" height="7" fill="#fff"/>
<text class="t ex" x="196" y="1552.0"><tspan dy="-1.2">−</tspan><tspan dy="1.2" dx="1">8</tspan></text>
<text class="t lb" x="1223.0" y="1769.5" text-anchor="middle" textLength="1459" lengthAdjust="spacing">Transmission distance between Alice and Bob(km)</text>
<text class="t lb" transform="translate(92.9,830.8) rotate(-90)" text-anchor="middle" textLength="832.5" lengthAdjust="spacing">QSS final key rate(/time-slot)</text>
<rect x="1526" y="127" width="616" height="275" fill="#fff" stroke="#262626" stroke-width="4"/>
<rect x="1549" y="176.0" width="178" height="7" fill="#f00"/>
<text class="ri" font-size="53" x="1740" y="193.1">l</text>
<text class="ri" font-size="33" x="1756.5" y="201.1" textLength="15" lengthAdjust="spacingAndGlyphs">b</text>
<text class="ro" font-size="60" x="1786.7" y="199.1" textLength="40.9" lengthAdjust="spacingAndGlyphs">−</text>
<text class="ri" font-size="53" x="1839.5" y="193.1">l</text>
<text class="ri" font-size="33" x="1855.5" y="201.1" textLength="18.5" lengthAdjust="spacingAndGlyphs">a</text>
<text class="ro" font-size="54" x="1890.8" y="197.3" textLength="43.9" lengthAdjust="spacingAndGlyphs" stroke="#000" stroke-width=".3">=</text>
<text class="rr" font-size="52" x="1950" y="193.1" textLength="52.5" lengthAdjust="spacingAndGlyphs">10</text>
<text class="rr" font-size="52" x="2019" y="193.1" textLength="72.5" lengthAdjust="spacingAndGlyphs">km</text>
<rect x="1549" y="261.0" width="178" height="7" fill="#00f"/>
<text class="ri" font-size="53" x="1740" y="278.1">l</text>
<text class="ri" font-size="33" x="1756.5" y="286.1" textLength="15" lengthAdjust="spacingAndGlyphs">b</text>
<text class="ro" font-size="60" x="1786.7" y="284.1" textLength="40.9" lengthAdjust="spacingAndGlyphs">−</text>
<text class="ri" font-size="53" x="1839.5" y="278.1">l</text>
<text class="ri" font-size="33" x="1855.5" y="286.1" textLength="18.5" lengthAdjust="spacingAndGlyphs">a</text>
<text class="ro" font-size="54" x="1890.8" y="282.3" textLength="43.9" lengthAdjust="spacingAndGlyphs" stroke="#000" stroke-width=".3">=</text>
<text class="rr" font-size="52" x="1950" y="278.1" textLength="52.5" lengthAdjust="spacingAndGlyphs">50</text>
<text class="rr" font-size="52" x="2019" y="278.1" textLength="72.5" lengthAdjust="spacingAndGlyphs">km</text>
<rect x="1549" y="346.0" width="178" height="7" fill="#0f0"/>
<text class="ri" font-size="53" x="1740" y="363.1">l</text>
<text class="ri" font-size="33" x="1756.5" y="371.1" textLength="15" lengthAdjust="spacingAndGlyphs">b</text>
<text class="ro" font-size="60" x="1786.7" y="369.1" textLength="40.9" lengthAdjust="spacingAndGlyphs">−</text>
<text class="ri" font-size="53" x="1839.5" y="363.1">l</text>
<text class="ri" font-size="33" x="1855.5" y="371.1" textLength="18.5" lengthAdjust="spacingAndGlyphs">a</text>
<text class="ro" font-size="54" x="1890.8" y="367.3" textLength="43.9" lengthAdjust="spacingAndGlyphs" stroke="#000" stroke-width=".3">=</text>
<text class="rr" font-size="52" x="1949.5" y="363.1" textLength="78.5" lengthAdjust="spacingAndGlyphs">100</text>
<text class="rr" font-size="52" x="2046" y="363.1" textLength="72.5" lengthAdjust="spacingAndGlyphs">km</text>
</svg></body></html>
